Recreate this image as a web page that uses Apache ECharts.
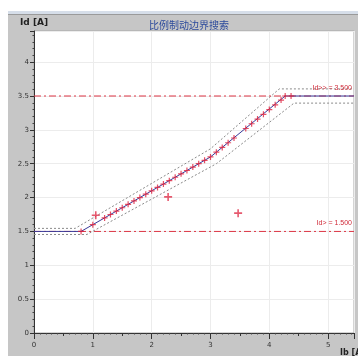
<!DOCTYPE html>
<html>
<head>
<meta charset="utf-8">
<script src="https://cdn.jsdelivr.net/npm/echarts@6/dist/echarts.min.js"></script>
<style>
  html, body { margin: 0; padding: 0; background: #fff; }
  #chart { width: 358px; height: 356px; }
</style>
</head>
<body>
<div id="chart"></div>
<script>
// axis ranges
const xMax = 5.44;
const yMax = 4.46;

// characteristic (Ib, Id)
const charIb = [0, 0.8, 3.0, 4.27, xMax];
const charId = [1.5, 1.5, 2.6, 3.5, 3.5];

// tolerance band (dotted)
const upperIb = [0, 0.7, 3.0, 4.17, xMax];
const upperId = [1.545, 1.545, 2.72, 3.605, 3.605];
const lowerIb = [0, 0.9, 3.1, 4.42, xMax];
const lowerId = [1.455, 1.455, 2.5, 3.395, 3.395];

// search result points
const testIb = [0.80, 1.00, 1.20, 1.30, 1.40, 1.50, 1.60, 1.70, 1.80, 1.90, 2.00, 2.10, 2.20, 2.30, 2.40, 2.50, 2.60, 2.70, 2.80, 2.90, 3.00, 3.10, 3.20, 3.30, 3.40, 3.60, 3.70, 3.80, 3.90, 4.00, 4.10, 4.20, 4.27, 4.37];
const testId = [1.50, 1.60, 1.70, 1.75, 1.80, 1.85, 1.90, 1.95, 2.00, 2.05, 2.10, 2.15, 2.20, 2.25, 2.30, 2.35, 2.40, 2.45, 2.50, 2.55, 2.60, 2.67, 2.74, 2.81, 2.88, 3.02, 3.09, 3.16, 3.23, 3.30, 3.37, 3.44, 3.50, 3.50];

// stray points off the line
const strayIb = [1.05, 2.28, 3.47];
const strayId = [1.74, 2.01, 1.77];

// thresholds
const idHigh = 3.5;
const idLow = 1.5;
const idHighLabel = 'Id>> = 3.500';
const idLowLabel = 'Id> = 1.500';

const zip = (a, b) => a.map((v, i) => [v, b[i]]);
const plus = 'path://M4 0 L6 0 L6 4 L10 4 L10 6 L6 6 L6 10 L4 10 L4 6 L0 6 L0 4 L4 4 Z';

const thresholdSeries = (y, text) => ({
  type: 'line', silent: true,
  symbol: 'circle', symbolSize: 1, showSymbol: true,
  itemStyle: { color: 'rgba(0,0,0,0)' },
  data: [[0, y], { value: [xMax, y], label: { show: true, formatter: text } }],
  label: { show: false, position: 'top', align: 'right', offset: [-2, 1], fontSize: 7, fontFamily: 'Liberation Sans', color: '#d02a38' },
  lineStyle: { color: '#dc3444', width: 1, type: [7, 3, 2, 3] }
});

const chart = echarts.init(document.getElementById('chart'));

chart.setOption({
  animation: false,
  backgroundColor: '#fff',
  textStyle: { fontFamily: 'DejaVu Sans' },
  graphic: [
    { type: 'rect', shape: { x: 8, y: 11, width: 350, height: 3 }, style: { fill: '#d6dee9' }, z: -10 },
    { type: 'rect', shape: { x: 8, y: 14, width: 350, height: 342 }, style: { fill: '#c6c6c6' }, z: -10 },
    { type: 'rect', shape: { x: 8, y: 14, width: 350, height: 1 }, style: { fill: '#9a9a9a' }, z: -9 },
    { type: 'text', left: 20, top: 18, style: { text: 'Id [A]', font: 'bold 9px "DejaVu Sans"', fill: '#222' } },
    { type: 'text', left: 340, top: 349, style: { text: 'Ib [A]', font: 'bold 8px "DejaVu Sans"', fill: '#222' } }
  ],
  title: {
    text: '比例制动边界搜索',
    left: 184,
    top: 15,
    textAlign: 'center',
    textStyle: { fontFamily: 'Noto Sans CJK SC', fontSize: 10, fontWeight: 'normal', color: '#2c4a9c' }
  },
  grid: {
    left: 34, top: 31, right: 4, bottom: 23,
    show: true, backgroundColor: '#fff', borderColor: '#a8a8a8', borderWidth: 1
  },
  xAxis: [
    {
      type: 'value', min: 0, max: xMax, interval: 0.5,
      axisLine: { show: true, onZero: false, lineStyle: { color: '#333' } },
      axisTick: { show: true, length: 3, lineStyle: { color: '#333' } },
      minorTick: { show: true, splitNumber: 5, length: 1.5, lineStyle: { color: '#444' } },
      axisLabel: {
        fontSize: 7, color: '#333', margin: 9,
        formatter: v => (Math.abs(v - Math.round(v)) < 1e-6 ? String(Math.round(v)) : '')
      },
      splitLine: { show: false }
    },
    {
      type: 'value', min: 0, max: xMax, interval: 1, position: 'bottom',
      axisLine: { show: false },
      axisTick: { show: true, length: 6, lineStyle: { color: '#333' } },
      axisLabel: { show: false },
      splitLine: { show: true, lineStyle: { color: '#ececec', width: 1 } }
    }
  ],
  yAxis: {
    type: 'value', min: 0, max: yMax, interval: 0.5,
    axisLine: { show: true, onZero: false, lineStyle: { color: '#333' } },
    axisTick: { show: true, length: 4, lineStyle: { color: '#333' } },
    minorTick: { show: true, splitNumber: 5, length: 1.5, lineStyle: { color: '#444' } },
    axisLabel: { fontSize: 7, color: '#333', margin: 5, showMaxLabel: false },
    splitLine: { show: true, lineStyle: { color: '#ececec', width: 1 } }
  },
  series: [
    {
      type: 'line', data: zip(upperIb, upperId), symbol: 'none', silent: true,
      lineStyle: { color: '#8a8a8a', width: 1, type: [2, 2] }
    },
    {
      type: 'line', data: zip(lowerIb, lowerId), symbol: 'none', silent: true,
      lineStyle: { color: '#8a8a8a', width: 1, type: [2, 2] }
    },
    thresholdSeries(idHigh, idHighLabel),
    thresholdSeries(idLow, idLowLabel),
    {
      type: 'line', data: zip(charIb, charId), symbol: 'none', silent: true,
      lineStyle: { color: '#3a3a98', width: 1 }
    },
    {
      type: 'scatter', data: zip(testIb, testId), symbol: plus, symbolSize: 6,
      itemStyle: { color: '#e0203c' }, z: 5
    },
    {
      type: 'scatter', data: zip(strayIb, strayId), symbol: plus, symbolSize: 8,
      itemStyle: { color: '#e0304a' }, z: 5
    }
  ]
});
</script>
</body>
</html>
